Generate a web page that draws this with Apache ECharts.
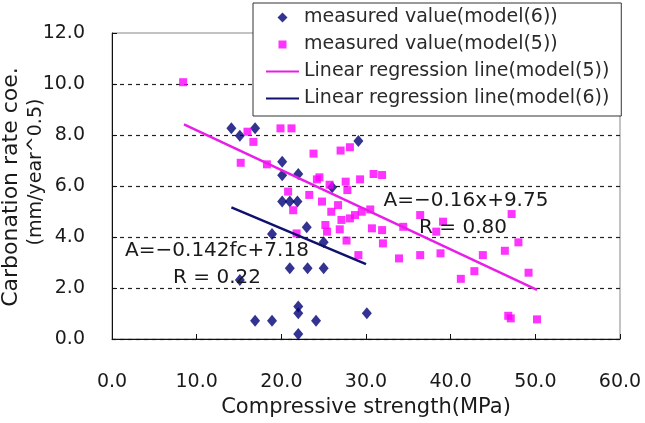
<!DOCTYPE html>
<html lang="en">
<head>
<meta charset="UTF-8">
<title>Carbonation rate vs compressive strength</title>
<style>
    html, body { margin: 0; padding: 0; background: #fff; }
    #chart { width: 645px; height: 423px; }
</style>
<script src="https://cdn.jsdelivr.net/npm/echarts@6/dist/echarts.min.js"></script>
</head>
<body>
<div id="chart"></div>
<script>
    // measured values, model(6)
    var model6Strength = [14.1, 15.1, 16.9, 20.1, 20.1, 22.0, 29.1, 26.0, 20.1, 21.0, 21.9, 23.0, 25.0,
        18.9, 21.0, 23.1, 25.0, 15.1, 16.9, 18.9, 22.0, 22.0, 24.1, 22.0, 30.1];
    var model6Rate = [8.26, 7.97, 8.26, 6.95, 6.42, 6.47, 7.76, 5.95, 5.39, 5.39, 5.39, 4.38, 3.79,
        4.12, 2.77, 2.77, 2.77, 2.31, 0.72, 0.72, 1.27, 1.01, 0.72, 0.20, 1.01];

    // measured values, model(5)
    var model5Strength = [8.4, 16.0, 16.7, 15.2, 18.3, 19.9, 21.2, 23.8, 27.0, 28.1, 24.2, 24.5, 25.7, 27.6,
        29.3, 30.9, 31.9, 27.8, 20.8, 23.3, 21.4, 24.8, 25.9, 26.7, 27.1, 28.1, 28.7, 29.5, 30.5, 25.2,
        25.4, 26.9, 30.7, 31.9, 34.4, 21.8, 27.7, 29.1, 32.0, 33.9, 36.4, 36.4, 38.3, 39.1, 38.8, 41.2,
        42.8, 43.8, 46.4, 47.2, 48.0, 49.2, 46.8, 47.1, 50.2];
    var model5Rate = [10.07, 8.13, 7.73, 6.91, 6.85, 8.26, 8.26, 7.27, 7.39, 7.52, 6.26, 6.34, 6.05, 6.17,
        6.26, 6.47, 6.43, 5.84, 5.78, 5.65, 5.05, 5.39, 4.99, 5.25, 4.67, 4.73, 4.86, 4.99, 5.08, 4.47,
        4.21, 4.30, 4.34, 4.27, 4.40, 4.14, 3.86, 3.29, 3.75, 3.16, 4.86, 3.29, 4.21, 4.60, 3.36, 2.36,
        2.66, 3.29, 3.46, 4.90, 3.79, 2.60, 0.91, 0.81, 0.77];

    // regression line end points
    var fit5Strength = [8.5, 50.2];
    var fit5Rate = [8.42, 1.93];
    var fit6Strength = [14.1, 30.0];
    var fit6Rate = [5.16, 2.94];

    // axis ticks
    var xTicks = [0, 10, 20, 30, 40, 50, 60];
    var yTicks = [0, 2, 4, 6, 8, 10, 12];

    var legendNames = ['measured value(model(6))', 'measured value(model(5))',
        'Linear regression line(model(5))', 'Linear regression line(model(6))'];

    function pairs(xs, ys) {
        var out = [];
        for (var i = 0; i < xs.length; i++) {
            out.push([xs[i], ys[i]]);
        }
        return out;
    }

    var font = 'DejaVu Sans';
    var textColor = '#1a1a1a';
    var navy = '#000075';
    var magenta = '#ff00ff';

    // legend icons: keep the marker shapes small and square-ish
    var diamondIcon = 'path://M0,0L0,0M5,0L10,5L5,10L0,5ZM10,10L10,10';
    var squareIcon = 'path://M0,0L0,0M1,1H9V9H1ZM10,10L10,10';
    var hidden = { color: 'rgba(0,0,0,0)', opacity: 0, borderWidth: 0 };

    var myChart = echarts.init(document.getElementById('chart'));

    var option = {
        backgroundColor: '#fff',
        animation: false,
        grid: {
            left: 112, right: 25, top: 33, bottom: 84,
            show: true, borderColor: '#888', borderWidth: 1
        },
        legend: {
            orient: 'vertical',
            left: 253, top: 3,
            backgroundColor: '#fff',
            borderColor: '#333', borderWidth: 1,
            padding: [5, 12, 8, 12],
            itemWidth: 33, itemHeight: 10, itemGap: 8,
            symbolKeepAspect: true,
            textStyle: { fontFamily: font, fontSize: 19, color: '#2a2a2a' },
            data: [
                { name: legendNames[0], icon: diamondIcon, itemStyle: { color: navy } },
                { name: legendNames[1], icon: squareIcon, itemStyle: { color: magenta } },
                { name: legendNames[2], itemStyle: hidden },
                { name: legendNames[3], itemStyle: hidden }
            ]
        },
        xAxis: {
            type: 'value',
            min: xTicks[0], max: xTicks[xTicks.length - 1], interval: 10,
            axisLine: { lineStyle: { color: '#111', width: 1 } },
            axisTick: { inside: true, length: 5, lineStyle: { color: '#111' } },
            axisLabel: {
                margin: 34, fontFamily: font, fontSize: 19, color: textColor,
                formatter: function (v) { return v.toFixed(1); }
            },
            splitLine: { show: false },
            name: 'Compressive strength(MPa)',
            nameLocation: 'middle', nameGap: 58,
            nameTextStyle: { fontFamily: font, fontSize: 21, color: textColor }
        },
        yAxis: {
            type: 'value',
            min: yTicks[0], max: yTicks[yTicks.length - 1], interval: 2,
            axisLine: { show: true, lineStyle: { color: '#111', width: 1 } },
            axisTick: { inside: true, length: 5, lineStyle: { color: '#111' } },
            axisLabel: {
                margin: 27, fontFamily: font, fontSize: 19, color: textColor,
                formatter: function (v) { return v.toFixed(1); }
            },
            splitLine: {
                show: true,
                lineStyle: {
                    type: [4, 4], width: 1.2,
                    color: ['#222', '#222', '#222', '#222', '#222', '#222', 'rgba(0,0,0,0)']
                }
            }
        },
        graphic: [
            {
                type: 'text', x: 11, y: 187, rotation: Math.PI / 2,
                style: { text: 'Carbonation rate coe.', font: '22px "DejaVu Sans"', fill: textColor,
                    textAlign: 'center', textVerticalAlign: 'middle' }
            },
            {
                type: 'text', x: 36, y: 172, rotation: Math.PI / 2,
                style: { text: '(mm/year^0.5)', font: '19px "DejaVu Sans"', fill: textColor,
                    textAlign: 'center', textVerticalAlign: 'middle' }
            },
            {
                type: 'text', x: 466, y: 201, z: 100,
                style: { text: 'A=\u22120.16x+9.75', font: '20px "DejaVu Sans"', fill: textColor,
                    textAlign: 'center', textVerticalAlign: 'middle' }
            },
            {
                type: 'text', x: 463, y: 228, z: 100,
                style: { text: 'R = 0.80', font: '20px "DejaVu Sans"', fill: textColor,
                    textAlign: 'center', textVerticalAlign: 'middle' }
            },
            {
                type: 'text', x: 217, y: 251, z: 100,
                style: { text: 'A=\u22120.142fc+7.18', font: '20px "DejaVu Sans"', fill: textColor,
                    textAlign: 'center', textVerticalAlign: 'middle' }
            },
            {
                type: 'text', x: 217, y: 278, z: 100,
                style: { text: 'R = 0.22', font: '20px "DejaVu Sans"', fill: textColor,
                    textAlign: 'center', textVerticalAlign: 'middle' }
            }
        ],
        series: [
            {
                name: legendNames[0],
                type: 'scatter',
                symbol: 'diamond',
                symbolSize: [10, 12],
                itemStyle: { color: navy },
                data: pairs(model6Strength, model6Rate)
            },
            {
                name: legendNames[1],
                type: 'scatter',
                symbol: 'rect',
                symbolSize: 8,
                itemStyle: { color: magenta },
                data: pairs(model5Strength, model5Rate)
            },
            {
                name: legendNames[2],
                type: 'line',
                symbol: 'none',
                lineStyle: { color: '#e81ee8', width: 2.5 },
                itemStyle: { color: '#e81ee8' },
                data: pairs(fit5Strength, fit5Rate)
            },
            {
                name: legendNames[3],
                type: 'line',
                symbol: 'none',
                lineStyle: { color: '#10106e', width: 2.5 },
                itemStyle: { color: '#10106e' },
                data: pairs(fit6Strength, fit6Rate)
            }
        ]
    };

    myChart.setOption(option);
</script>
</body>
</html>
